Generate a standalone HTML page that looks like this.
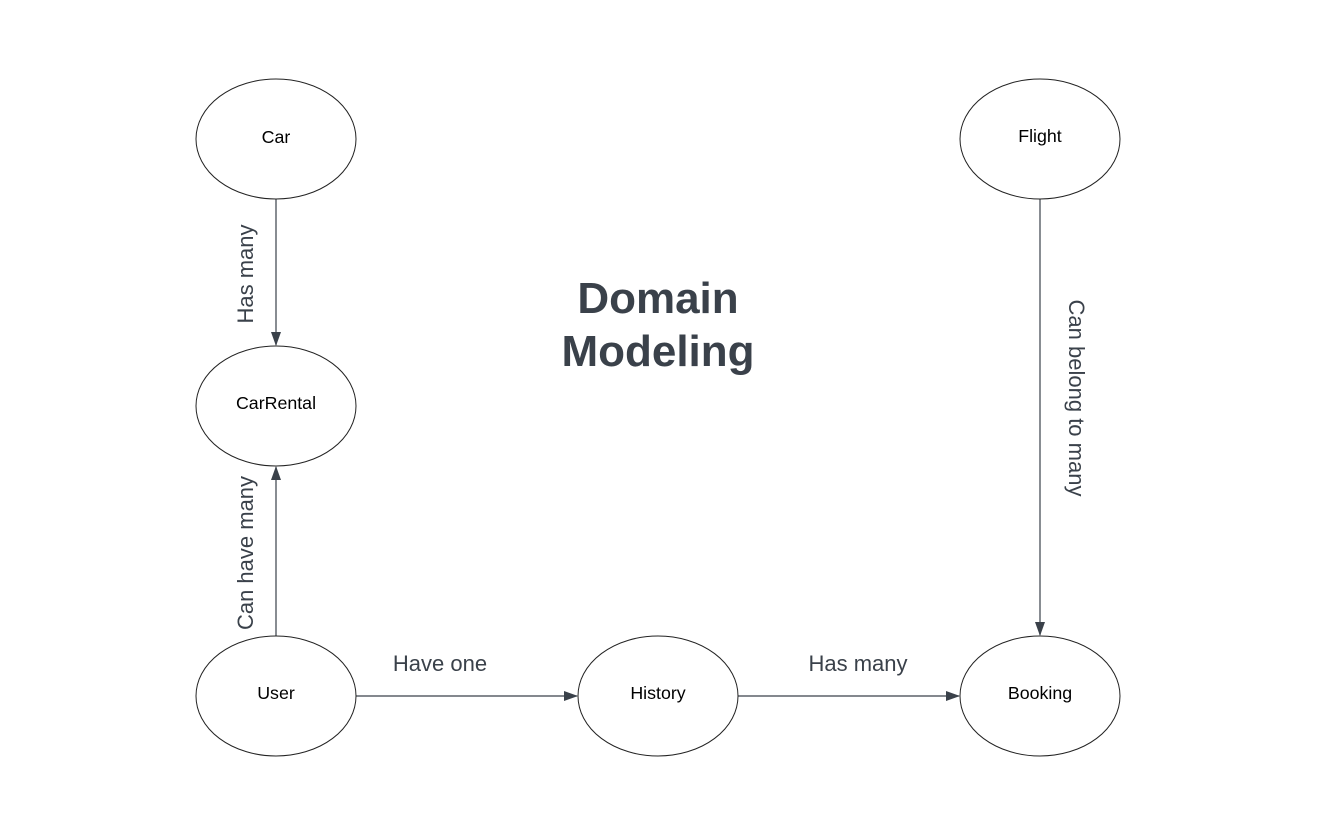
<!DOCTYPE html>
<html><head><style>html,body{margin:0;padding:0;background:#fff;}svg{display:block}</style></head>
<body>
<svg width="1338" height="822" viewBox="0 0 1338 822" xmlns="http://www.w3.org/2000/svg" font-family="Liberation Sans, Arial, sans-serif">
<defs><marker id="a" markerWidth="14" markerHeight="10" refX="13" refY="5" orient="auto" markerUnits="userSpaceOnUse"><path d="M0,0 L14,5 L0,10 z" fill="#3a414a"/></marker></defs>
<g fill="none" stroke="#3a414a" stroke-width="1.2">
<line x1="276" y1="199" x2="276" y2="345" marker-end="url(#a)"/>
<line x1="276" y1="636" x2="276" y2="467" marker-end="url(#a)"/>
<line x1="356" y1="696" x2="577" y2="696" marker-end="url(#a)"/>
<line x1="738" y1="696" x2="959" y2="696" marker-end="url(#a)"/>
<line x1="1040" y1="199" x2="1040" y2="635" marker-end="url(#a)"/>
</g>
<g fill="#fff" stroke="#222" stroke-width="1">
<ellipse cx="276" cy="139" rx="80" ry="60"/>
<ellipse cx="1040" cy="139" rx="80" ry="60"/>
<ellipse cx="276" cy="406" rx="80" ry="60"/>
<ellipse cx="276" cy="696" rx="80" ry="60"/>
<ellipse cx="658" cy="696" rx="80" ry="60"/>
<ellipse cx="1040" cy="696" rx="80" ry="60"/>
</g>
<g font-size="17.8" fill="#000" text-anchor="middle">
<text x="276" y="143">Car</text>
<text x="1040" y="142">Flight</text>
<text x="276" y="409">CarRental</text>
<text x="276" y="699">User</text>
<text x="658" y="699">History</text>
<text x="1040" y="699">Booking</text>
</g>
<g font-size="22" fill="#3a414a" text-anchor="middle">
<text x="440" y="671">Have one</text>
<text x="858" y="671">Has many</text>
<text transform="translate(253,274) rotate(-90)">Has many</text>
<text transform="translate(253,553) rotate(-90)">Can have many</text>
<text transform="translate(1069,398) rotate(90)">Can belong to many</text>
</g>
<g font-size="44" font-weight="bold" fill="#3a414a" text-anchor="middle">
<text x="658" y="313">Domain</text>
<text x="658" y="366">Modeling</text>
</g>
</svg>
</body></html>
